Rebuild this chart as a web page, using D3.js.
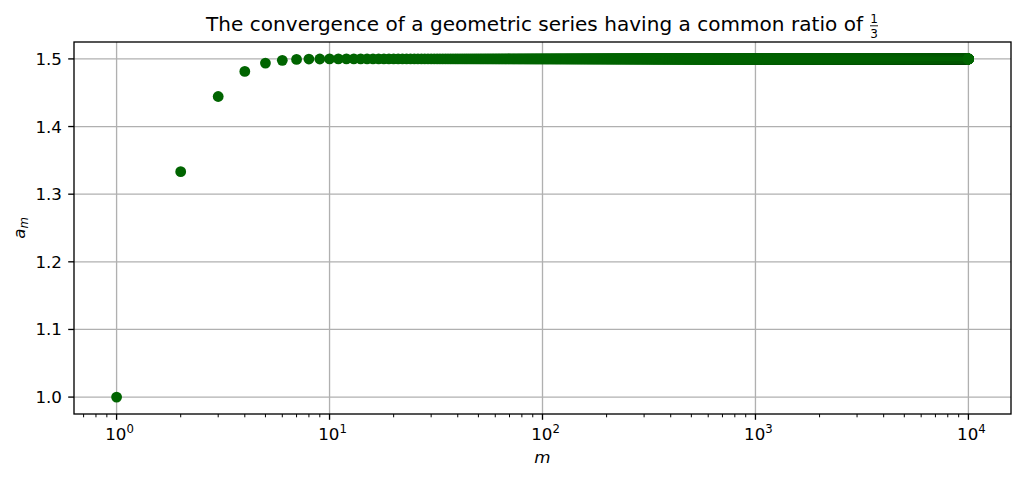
<!DOCTYPE html>
<html><head><meta charset="utf-8">
<script src="https://cdn.jsdelivr.net/npm/d3@7"></script>
<style>body{margin:0;background:#fff}svg{display:block}text{font-family:"DejaVu Sans",sans-serif;fill:#000}</style>
</head><body>
<svg id="c" width="1024" height="478"></svg>
<script>
// Data
const headM = [1, 2, 3, 4, 5, 6, 7, 8, 9, 10, 11, 12];
const headA = [1.0, 1.3333, 1.4444, 1.4815, 1.4938, 1.4979, 1.4993, 1.4998, 1.4999, 1.5, 1.5, 1.5];
const plateauValue = 1.5;      // values for m = 13 ... lastM
const lastM = 10000;
const xTickExps = [0, 1, 2, 3, 4];
const yTicks = [1.0, 1.1, 1.2, 1.3, 1.4, 1.5];

const points = headM.map((m, i) => ({m, a: headA[i]}))
  .concat(d3.range(headM[headM.length - 1] + 1, lastM + 1).map(m => ({m, a: plateauValue})));

const svg = d3.select("#c");
const L = 74, R = 1011, T = 42, B = 414;
const FS = 16.7, FSS = 11.7, LW = 1.33;
const x = d3.scaleLog().domain([Math.pow(10, -0.2), Math.pow(10, 4.2)]).range([L, R]);
const y = d3.scaleLinear().domain([0.975, 1.525]).range([B, T]);

// grid
const g = svg.append("g");
xTickExps.forEach(e => {
  const px = x(Math.pow(10, e));
  g.append("line").attr("x1", px).attr("x2", px).attr("y1", T).attr("y2", B)
    .attr("stroke", "#b0b0b0").attr("stroke-width", LW);
});
yTicks.forEach(v => {
  g.append("line").attr("x1", L).attr("x2", R).attr("y1", y(v)).attr("y2", y(v))
    .attr("stroke", "#b0b0b0").attr("stroke-width", LW);
});

// points
svg.append("g").selectAll("circle").data(points).join("circle")
  .attr("cx", d => x(d.m)).attr("cy", d => y(d.a)).attr("r", 5.4).attr("fill", "#006400");

// axes
const xAxis = svg.append("g").attr("transform", `translate(0,${B})`);
const minor = [];
for (let e = -1; e <= 4; e++) for (let k = 2; k <= 9; k++) {
  const v = k * Math.pow(10, e);
  if (v >= x.domain()[0] && v <= x.domain()[1]) minor.push(v);
}
xAxis.selectAll(".mn").data(minor).join("line").attr("class", "mn")
  .attr("x1", d => x(d)).attr("x2", d => x(d)).attr("y1", 0).attr("y2", 3.3)
  .attr("stroke", "#000").attr("stroke-width", 1);
xAxis.selectAll(".mj").data(xTickExps).join("line").attr("class", "mj")
  .attr("x1", d => x(Math.pow(10, d))).attr("x2", d => x(Math.pow(10, d))).attr("y1", 0).attr("y2", 5.8)
  .attr("stroke", "#000").attr("stroke-width", LW);
const xl = xAxis.selectAll(".xl").data(xTickExps).join("text").attr("class", "xl")
  .attr("x", d => x(Math.pow(10, d)) + 3).attr("y", 26).attr("text-anchor", "middle")
  .attr("font-size", FS);
xl.append("tspan").text("10");
xl.append("tspan").attr("dy", -7).attr("font-size", FSS).text(d => d);

const yAxis = svg.append("g").attr("transform", `translate(${L},0)`);
yAxis.selectAll("line").data(yTicks).join("line")
  .attr("x1", -5.8).attr("x2", 0).attr("y1", d => y(d)).attr("y2", d => y(d))
  .attr("stroke", "#000").attr("stroke-width", LW);
yAxis.selectAll("text").data(yTicks).join("text")
  .attr("x", -12).attr("y", d => y(d)).attr("dy", "0.36em").attr("text-anchor", "end")
  .attr("font-size", FS).text(d => d3.format(".1f")(d));

// frame
svg.append("rect").attr("x", L).attr("y", T).attr("width", R - L).attr("height", B - T)
  .attr("fill", "none").attr("stroke", "#000").attr("stroke-width", LW);

// labels
svg.append("text").attr("x", (L + R) / 2).attr("y", 463).attr("text-anchor", "middle")
  .attr("font-size", FS).attr("font-style", "italic").text("m");
const ylab = svg.append("text").attr("transform", `translate(25,${(T + B) / 2}) rotate(-90)`)
  .attr("text-anchor", "middle").attr("font-size", FS);
ylab.append("tspan").attr("font-style", "italic").text("a");
ylab.append("tspan").attr("font-style", "italic").attr("dy", 3).attr("font-size", FSS).text("m");

// title with fraction
const title = svg.append("text").attr("x", 206).attr("y", 31).attr("font-size", 20)
  .attr("textLength", 657).attr("lengthAdjust", "spacing")
  .text("The convergence of a geometric series having a common ratio of");
const fx = 206 + 657 + 11;
svg.append("text").attr("x", fx).attr("y", 23).attr("text-anchor", "middle").attr("font-size", 12).text("1");
svg.append("line").attr("x1", fx - 4).attr("x2", fx + 4).attr("y1", 25.8).attr("y2", 25.8)
  .attr("stroke", "#000").attr("stroke-width", 0.9);
svg.append("text").attr("x", fx).attr("y", 38).attr("text-anchor", "middle").attr("font-size", 12).text("3");
</script>
</body></html>
